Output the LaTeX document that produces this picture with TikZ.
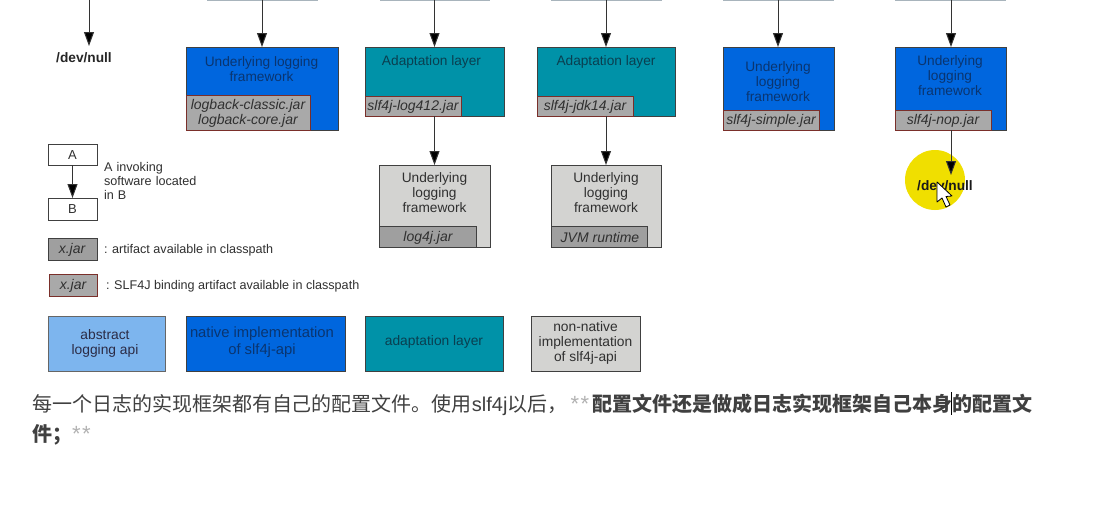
\documentclass[tikz,border=0pt]{standalone}
\usepackage{fontspec}
\setmainfont{Liberation Sans}
\newfontfamily\cjk{Noto Sans CJK SC}
\usetikzlibrary{arrows.meta}
\definecolor{natblue}{HTML}{0066DE}
\definecolor{teal2}{HTML}{0092A8}
\definecolor{lblue}{HTML}{7DB5EE}
\definecolor{lgray}{HTML}{D3D3D1}
\definecolor{jargray}{HTML}{A9A9A9}
\definecolor{darkjar}{HTML}{9F9F9F}
\definecolor{bordred}{HTML}{7A2F2A}
\definecolor{onblue}{HTML}{0A3570}
\definecolor{onteal}{HTML}{0A3F50}
\definecolor{ongray}{HTML}{303030}
\definecolor{stub}{HTML}{A8B4BC}
\definecolor{hilite}{HTML}{F0DF00}
\tikzset{
 x=1pt,y=-1pt,
 every node/.style={inner sep=0pt,outer sep=0pt,font=\fontsize{13.7}{15}\selectfont,align=center},
 boxb/.style={draw=black!75,line width=1pt,rectangle},
 natbox/.style={boxb,fill=natblue},
 tealbox/.style={boxb,fill=teal2},
 graybox/.style={boxb,fill=lgray},
 lightbox/.style={boxb,draw=black!60,fill=lblue},
 whitebox/.style={boxb,fill=white},
 bindjar/.style={rectangle,draw=bordred,line width=1pt,fill=jargray},
 plainjar/.style={rectangle,draw=black!75,line width=1pt,fill=darkjar},
 jartext/.style={font=\fontsize{14}{15}\selectfont\itshape,text=ongray},
 ontext/.style={text=onblue},
 tealtext/.style={text=onteal},
 graytext/.style={text=ongray},
 keytext/.style={font=\fontsize{13.8}{15}\selectfont},
 legend/.style={font=\fontsize{12.6}{14}\selectfont,text=ongray,align=left,anchor=west},
 arr/.style={draw=black!80,line width=1pt,-{Triangle[length=14pt,width=10pt,fill=black]}},
 stubline/.style={draw=stub,line width=1pt},
 para/.style={font=\fontsize{20}{20}\selectfont\cjk,anchor=west,text=black!75,align=left},
}
\newcommand{\bx}[6]{\node[#2,minimum width=#5-#3,minimum height=#6-#4,anchor=north west] (#1) at (#3,#4) {};}
\newcommand{\stars}{\textcolor{black!30}{{\rmfamily\fontsize{22}{22}\selectfont *\kern1.5pt*}}}
\begin{document}
\begin{tikzpicture}
\useasboundingbox (0,0) rectangle (1109,530);
\fill[white] (0,0) rectangle (1109,530);
% top stubs
\coordinate (s0) at (89,0);
\coordinate (s1) at (262,0);
\coordinate (s2) at (434.5,0);
\coordinate (s3) at (606,0);
\coordinate (s4) at (778,0);
\coordinate (s5) at (951,0);
\draw[stubline] (207,0) -- (318,0) (380,0) -- (490,0) (551,0) -- (662,0) (723,0) -- (834,0) (895,0) -- (1006,0);
% yellow highlight
\fill[hilite] (935,180) circle (30);
% column 1
\node[font=\fontsize{13.7}{15}\selectfont\bfseries,text=black!85] (null1) at (84,58) {/dev/null};
% column 2
\bx{b1}{natbox}{186}{47}{338}{130}
\bx{j1}{bindjar}{186}{95}{310}{130}
\node[ontext] (t1) at (261.5,69) {Underlying logging\\framework};
\node[jartext] (jt1) at (248,113.5) {logback-classic.jar\\logback-core.jar};
% column 3
\bx{b2}{tealbox}{365}{47}{504}{116}
\bx{j2}{bindjar}{365}{96}{461}{116}
\node[tealtext] (t2) at (431.5,62) {Adaptation layer};
\node[jartext] (jt2) at (413,107) {slf4j-log412.jar};
\bx{g1}{graybox}{379}{165}{490}{247}
\bx{g1j}{plainjar}{379}{226}{476}{247}
\node[graytext] (gt1) at (434.5,192.5) {Underlying\\logging\\framework};
\node[jartext] (gjt1) at (428,237.5) {log4j.jar};
% column 4
\bx{b3}{tealbox}{537}{47}{675}{116}
\bx{j3}{bindjar}{537}{96}{633}{116}
\node[tealtext] (t3) at (606,62) {Adaptation layer};
\node[jartext] (jt3) at (585,107) {slf4j-jdk14.jar};
\bx{g2}{graybox}{551}{165}{661}{247}
\bx{g2j}{plainjar}{551}{226}{647}{247}
\node[graytext] (gt2) at (606,192.5) {Underlying\\logging\\framework};
\node[jartext] (gjt2) at (600,237.5) {JVM runtime};
% column 5
\bx{b4}{natbox}{723}{47}{834}{130}
\bx{j4}{bindjar}{723}{110}{819}{130}
\node[ontext] (t4) at (778,82) {Underlying\\logging\\framework};
\node[jartext] (jt4) at (771,120.5) {slf4j-simple.jar};
% column 6
\bx{b5}{natbox}{895}{47}{1006}{130}
\bx{j5}{bindjar}{895}{110}{991}{130}
\node[ontext] (t5) at (950,75.5) {Underlying\\logging\\framework};
\node[jartext] (jt5) at (943,120.5) {slf4j-nop.jar};
\node[font=\fontsize{13.7}{15}\selectfont\bfseries,text=black!90] (null2) at (945,186) {/dev/null};
% arrows
\coordinate (e0) at (89,46);
\draw[arr] (s0) -- (e0);
\draw[arr] (s1) -- (b1.north -| s1);
\draw[arr] (s2) -- (b2.north -| s2);
\draw[arr] (s3) -- (b3.north -| s3);
\draw[arr] (s4) -- (b4.north -| s4);
\draw[arr] (s5) -- (b5.north -| s5);
\draw[arr] (b2.south -| s2) -- (g1.north -| s2);
\draw[arr] (b3.south -| s3) -- (g2.north -| s3);
\coordinate (e5) at (951,175);
\draw[arr] (b5.south -| s5) -- (e5);
% cursor
\draw[fill=white,draw=black,line width=.8pt,line join=round] (937,182) -- (937,202) -- (942,198) -- (946,207) -- (950,205) -- (946,196.5) -- (952,196) -- cycle;
% legend
\bx{la}{whitebox}{48}{144}{97}{165}
\bx{lb}{whitebox}{48}{198}{97}{220}
\node[font=\fontsize{13}{15}\selectfont,text=ongray] (lat) at (72.5,155) {A};
\node[font=\fontsize{13}{15}\selectfont,text=ongray] (lbt) at (72.5,209.5) {B};
\draw[arr] (la.south) -- (lb.north);
\node[legend,text width=110pt] (inv) at (104,180.5) {A invoking\\software located\\in B};
\bx{lx1}{plainjar}{48}{238}{97}{260}
\node[jartext] (xj1) at (72,250) {x.jar};
\node[legend] (l1) at (104,250) {: artifact available in classpath};
\bx{lx2}{bindjar}{49}{274}{97}{296}
\node[jartext] (xj2) at (73,286) {x.jar};
\node[legend] (l2) at (106,286) {: SLF4J binding artifact available in classpath};
% key
\bx{k1}{lightbox}{48}{316}{165}{371}
\node[keytext,text=ongray!90!blue] (kt1) at (105,343) {abstract\\logging api};
\bx{k2}{natbox}{186}{316}{345}{371}
\node[ontext,font=\fontsize{14.8}{17}\selectfont] (kt2) at (262,342.5) {native implementation\\of slf4j-api};
\bx{k3}{tealbox}{365}{316}{503}{371}
\node[tealtext,keytext] (kt3) at (434,342) {adaptation layer};
\bx{k4}{graybox}{531}{316}{640}{371}
\node[graytext,keytext] (kt4) at (585.5,342.5) {non-native\\implementation\\of slf4j-api};
% paragraph
\node[para] (p1) at (32,405) {每一个日志的实现框架都有自己的配置文件。使用{\rmfamily slf4j}以后，\kern3pt\stars\kern3pt\textbf{配置文件还是做成日志实现框架自己本身的配置文}};
\node[para] (p2) at (32,435) {\textbf{件；}\stars};
\coordinate (c1) at (951,392);
\coordinate (c2) at (951,415);
\draw[black,line width=.7pt] (c1) -- (c2);
\end{tikzpicture}
\end{document}
